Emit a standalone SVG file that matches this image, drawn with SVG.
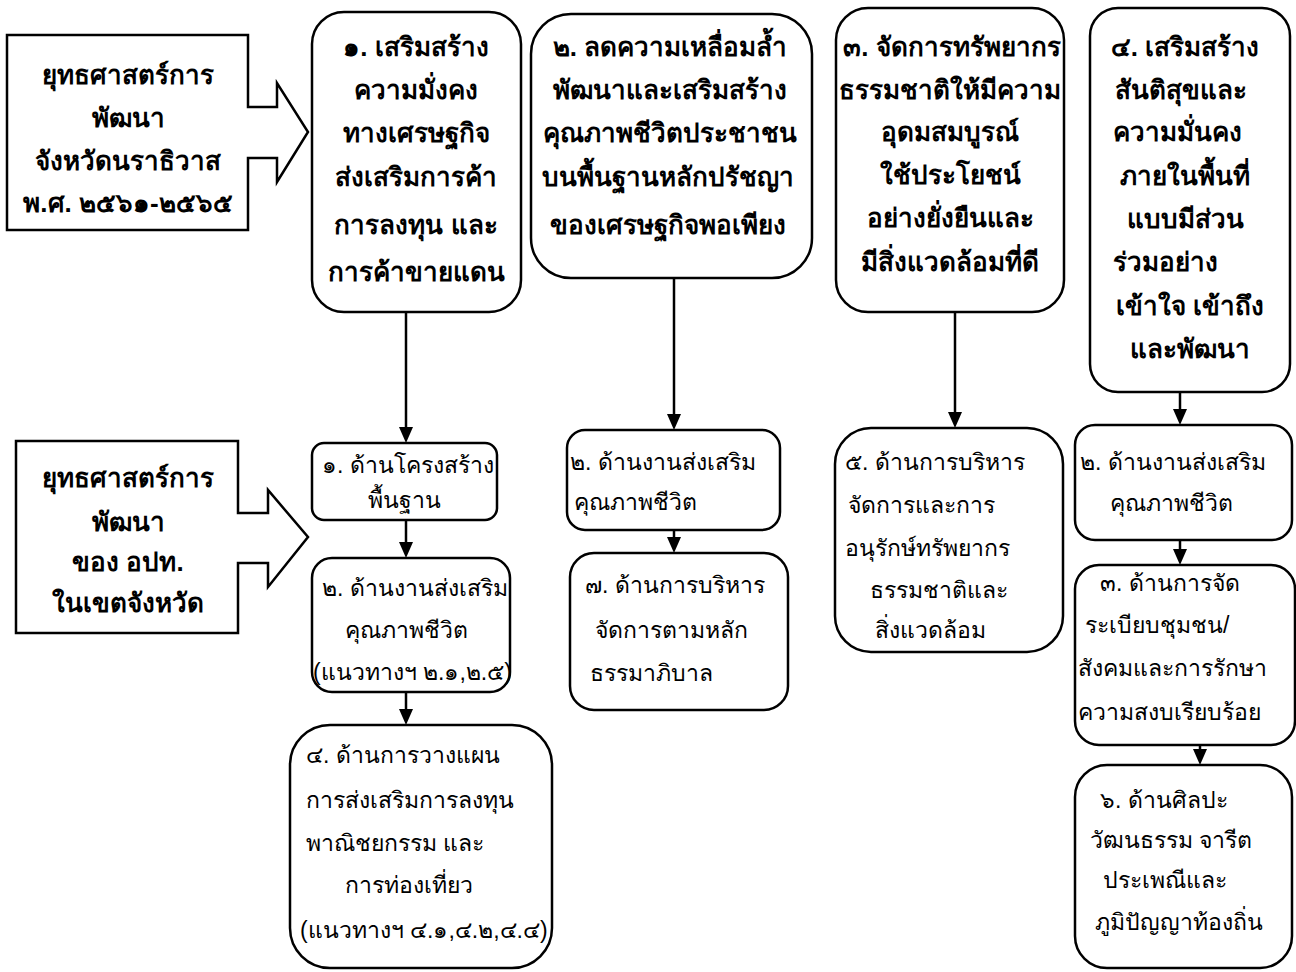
<svg xmlns="http://www.w3.org/2000/svg" width="1296" height="972" viewBox="0 0 1296 972">
<style>
.box{fill:#fff;stroke:#000;stroke-width:2.5}
.b{font-family:"Liberation Sans","Noto Sans",sans-serif;font-weight:bold;font-size:26px;fill:#000}
.r{font-family:"Liberation Sans","Noto Sans",sans-serif;font-size:23px;fill:#000}
.c{text-anchor:middle}
.conn{stroke:#000;stroke-width:2.5;fill:none}
</style>
<rect width="1296" height="972" fill="#fff"/>

<g id="connectors">
<line class="conn" x1="406" y1="312" x2="406" y2="430"/>
<line class="conn" x1="674" y1="278" x2="674" y2="418"/>
<line class="conn" x1="955" y1="312" x2="955" y2="416"/>
<line class="conn" x1="1180" y1="392" x2="1180" y2="412"/>
<line class="conn" x1="406" y1="520" x2="406" y2="545"/>
<line class="conn" x1="406" y1="692" x2="406" y2="712"/>
<line class="conn" x1="674" y1="530" x2="674" y2="540"/>
<line class="conn" x1="1180" y1="540" x2="1180" y2="552"/>
<line class="conn" x1="1200" y1="745" x2="1200" y2="752"/>
<path d="M399,427 L413,427 L406,443 Z"/>
<path d="M667,414 L681,414 L674,430 Z"/>
<path d="M948,412 L962,412 L955,428 Z"/>
<path d="M1173,409 L1187,409 L1180,425 Z"/>
<path d="M399,542 L413,542 L406,558 Z"/>
<path d="M399,709 L413,709 L406,725 Z"/>
<path d="M667,537 L681,537 L674,553 Z"/>
<path d="M1173,549 L1187,549 L1180,565 Z"/>
<path d="M1193,749 L1207,749 L1200,765 Z"/>
</g>

<g id="plan-province">
<path class="box" d="M7,35 H248 V107 H277 V83 L308,132 L277,182 V158 H248 V230 H7 Z"/>
<text class="b c" x="128" y="84">ยุทธศาสตร์การ</text>
<text class="b c" x="128" y="127">พัฒนา</text>
<text class="b c" x="128" y="170">จังหวัดนราธิวาส</text>
<text class="b c" x="128" y="212">พ.ศ. ๒๕๖๑-๒๕๖๕</text>
</g>

<g id="plan-lao">
<path class="box" d="M16,441 H238 V513 H268 V490 L308,537 L268,587 V563 H238 V633 H16 Z"/>
<text class="b c" x="128" y="487">ยุทธศาสตร์การ</text>
<text class="b c" x="128" y="531">พัฒนา</text>
<text class="b c" x="128" y="571">ของ อปท.</text>
<text class="b c" x="128" y="612">ในเขตจังหวัด</text>
</g>

<g id="s1">
<rect class="box" x="312" y="12" width="209" height="300" rx="32"/>
<text class="b c" x="416" y="56">๑. เสริมสร้าง</text>
<text class="b c" x="416" y="99">ความมั่งคง</text>
<text class="b c" x="416" y="142">ทางเศรษฐกิจ</text>
<text class="b c" x="416" y="186">ส่งเสริมการค้า</text>
<text class="b c" x="416" y="234">การลงทุน และ</text>
<text class="b c" x="416" y="281">การค้าขายแดน</text>
</g>

<g id="s2">
<rect class="box" x="531" y="14" width="281" height="264" rx="40"/>
<text class="b c" x="670" y="56">๒. ลดความเหลื่อมล้ำ</text>
<text class="b c" x="670" y="99">พัฒนาและเสริมสร้าง</text>
<text class="b c" x="670" y="142">คุณภาพชีวิตประชาชน</text>
<text class="b c" x="668" y="186">บนพื้นฐานหลักปรัชญา</text>
<text class="b c" x="668" y="234">ของเศรษฐกิจพอเพียง</text>
</g>

<g id="s3">
<rect class="box" x="836" y="8" width="228" height="304" rx="32"/>
<text class="b c" x="952" y="56">๓. จัดการทรัพยากร</text>
<text class="b c" x="950" y="99">ธรรมชาติให้มีความ</text>
<text class="b c" x="950" y="141">อุดมสมบูรณ์</text>
<text class="b c" x="950" y="184">ใช้ประโยชน์</text>
<text class="b c" x="950" y="227">อย่างยั่งยืนและ</text>
<text class="b c" x="950" y="271">มีสิ่งแวดล้อมที่ดี</text>
</g>

<g id="s4">
<rect class="box" x="1090" y="8" width="200" height="384" rx="28"/>
<text class="b c" x="1185" y="56">๔. เสริมสร้าง</text>
<text class="b" x="1115" y="99">สันติสุขและ</text>
<text class="b" x="1113" y="141">ความมั่นคง</text>
<text class="b" x="1120" y="185">ภายในพื้นที่</text>
<text class="b" x="1127" y="228">แบบมีส่วน</text>
<text class="b" x="1113" y="271">ร่วมอย่าง</text>
<text class="b" x="1116" y="315">เข้าใจ เข้าถึง</text>
<text class="b" x="1130" y="358">และพัฒนา</text>
</g>

<g id="l1">
<rect class="box" x="312" y="443" width="185" height="77" rx="12"/>
<text class="r" x="322" y="473">๑. ด้านโครงสร้าง</text>
<text class="r" x="368" y="508">พื้นฐาน</text>
</g>

<g id="l2">
<rect class="box" x="312" y="558" width="198" height="134" rx="20"/>
<text class="r" x="322" y="596">๒. ด้านงานส่งเสริม</text>
<text class="r" x="345" y="638">คุณภาพชีวิต</text>
<text class="r" x="313" y="680">(แนวทางฯ ๒.๑,๒.๕)</text>
</g>

<g id="l4">
<rect class="box" x="290" y="725" width="262" height="243" rx="40"/>
<text class="r" x="306" y="763">๔. ด้านการวางแผน</text>
<text class="r" x="306" y="808">การส่งเสริมการลงทุน</text>
<text class="r" x="306" y="851">พาณิชยกรรม และ</text>
<text class="r" x="345" y="893">การท่องเที่ยว</text>
<text class="r" x="300" y="938">(แนวทางฯ ๔.๑,๔.๒,๔.๔)</text>
</g>

<g id="m2">
<rect class="box" x="567" y="430" width="213" height="100" rx="18"/>
<text class="r" x="570" y="470">๒. ด้านงานส่งเสริม</text>
<text class="r" x="574" y="510">คุณภาพชีวิต</text>
</g>

<g id="m7">
<rect class="box" x="570" y="553" width="218" height="157" rx="24"/>
<text class="r" x="585" y="593">๗. ด้านการบริหาร</text>
<text class="r" x="595" y="638">จัดการตามหลัก</text>
<text class="r" x="590" y="681">ธรรมาภิบาล</text>
</g>

<g id="m5">
<rect class="box" x="835" y="428" width="228" height="224" rx="36"/>
<text class="r" x="845" y="470">๕. ด้านการบริหาร</text>
<text class="r" x="848" y="513">จัดการและการ</text>
<text class="r" x="845" y="556">อนุรักษ์ทรัพยากร</text>
<text class="r" x="870" y="598">ธรรมชาติและ</text>
<text class="r" x="875" y="638">สิ่งแวดล้อม</text>
</g>

<g id="r2">
<rect class="box" x="1075" y="425" width="217" height="115" rx="20"/>
<text class="r" x="1080" y="470">๒. ด้านงานส่งเสริม</text>
<text class="r" x="1110" y="511">คุณภาพชีวิต</text>
</g>

<g id="r3">
<rect class="box" x="1075" y="565" width="220" height="180" rx="24"/>
<text class="r" x="1100" y="591">๓. ด้านการจัด</text>
<text class="r" x="1085" y="633">ระเบียบชุมชน/</text>
<text class="r" x="1078" y="676">สังคมและการรักษา</text>
<text class="r" x="1078" y="720">ความสงบเรียบร้อย</text>
</g>

<g id="r6">
<rect class="box" x="1075" y="765" width="217" height="203" rx="32"/>
<text class="r" x="1100" y="808">๖. ด้านศิลปะ</text>
<text class="r" x="1090" y="848">วัฒนธรรม จารีต</text>
<text class="r" x="1103" y="888">ประเพณีและ</text>
<text class="r" x="1095" y="930">ภูมิปัญญาท้องถิ่น</text>
</g>
</svg>
